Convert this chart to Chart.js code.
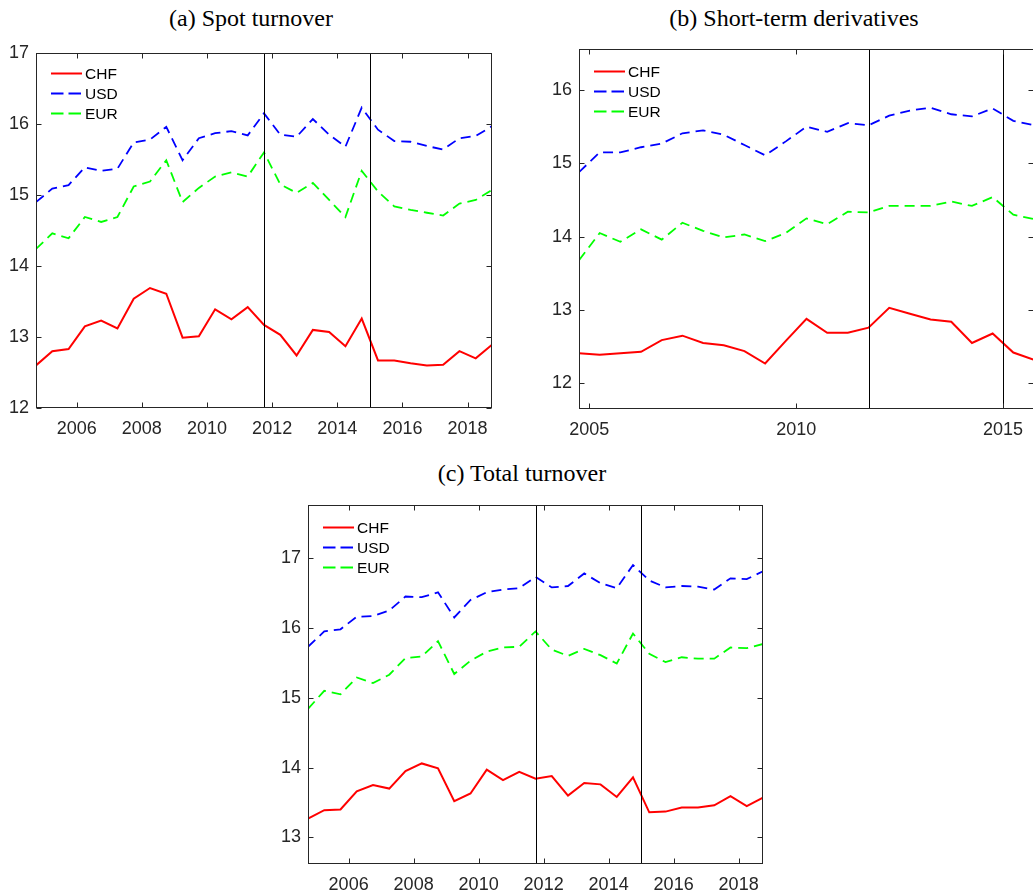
<!DOCTYPE html>
<html lang="en">
<head>
  <meta charset="UTF-8">
  <title>FX turnover</title>
  <script src="https://cdn.jsdelivr.net/npm/chart.js"></script>
  <style>
    body { margin: 0; background: #fff; }
    #wrap { position: relative; width: 1033px; height: 896px; overflow: hidden; background: #fff; }
    .title { position: absolute; font-family: "Liberation Serif", serif; font-size: 24px; line-height: 24px; color: #000; text-align: center; white-space: nowrap; }
    canvas { position: absolute; }
  </style>
</head>
<body>
  <div id="wrap">
    <div class="title" style="left:151px; width:200px; top:6px;">(a) Spot turnover</div>
    <div class="title" style="left:644px; width:300px; top:6px;">(b) Short-term derivatives</div>
    <div class="title" style="left:372px; width:300px; top:461px;">(c) Total turnover</div>
    <canvas id="spotChart" width="500" height="408" style="left:0; top:41px;"></canvas>
    <canvas id="derivChart" width="503" height="413" style="left:540px; top:37px;"></canvas>
    <canvas id="totalChart" width="500" height="412" style="left:270px; top:493px;"></canvas>
  </div>

  <script>
    // half-year observation dates
    const dates = [2004.75, 2005.25, 2005.75, 2006.25, 2006.75, 2007.25, 2007.75, 2008.25, 2008.75, 2009.25,
                   2009.75, 2010.25, 2010.75, 2011.25, 2011.75, 2012.25, 2012.75, 2013.25, 2013.75, 2014.25,
                   2014.75, 2015.25, 2015.75, 2016.25, 2016.75, 2017.25, 2017.75, 2018.25, 2018.75];

    // (a) spot turnover (log)
    const spotCHF = [12.60, 12.80, 12.83, 13.15, 13.23, 13.12, 13.54, 13.69, 13.61, 12.99,
                     13.01, 13.39, 13.25, 13.42, 13.17, 13.03, 12.74, 13.10, 13.07, 12.87,
                     13.26, 12.67, 12.67, 12.63, 12.60, 12.61, 12.80, 12.70, 12.89];
    const spotUSD = [14.90, 15.09, 15.14, 15.39, 15.34, 15.37, 15.74, 15.78, 15.96, 15.49,
                     15.80, 15.87, 15.90, 15.84, 16.15, 15.85, 15.82, 16.07, 15.85, 15.68,
                     16.23, 15.92, 15.76, 15.75, 15.69, 15.64, 15.80, 15.83, 15.97];
    const spotEUR = [14.24, 14.46, 14.39, 14.69, 14.62, 14.69, 15.12, 15.19, 15.49, 14.90,
                     15.10, 15.26, 15.32, 15.26, 15.60, 15.15, 15.03, 15.17, 14.93, 14.69,
                     15.34, 15.05, 14.84, 14.79, 14.75, 14.71, 14.88, 14.93, 15.07];

    // (b) short-term derivatives, visible up to 2015.75
    const derivCHF = [12.41, 12.39, 12.41, 12.43, 12.59, 12.65, 12.55, 12.52, 12.44, 12.27,
                      12.58, 12.88, 12.69, 12.69, 12.76, 13.03, 12.95, 12.87, 12.84, 12.55,
                      12.68, 12.42, 12.32];
    const derivUSD = [14.88, 15.15, 15.15, 15.22, 15.27, 15.41, 15.45, 15.39, 15.25, 15.11,
                      15.30, 15.50, 15.43, 15.55, 15.52, 15.65, 15.72, 15.76, 15.67, 15.64,
                      15.75, 15.58, 15.52];
    const derivEUR = [13.68, 14.05, 13.93, 14.10, 13.96, 14.19, 14.08, 13.99, 14.03, 13.94,
                      14.05, 14.25, 14.17, 14.34, 14.33, 14.42, 14.42, 14.42, 14.48, 14.42,
                      14.54, 14.30, 14.24];

    // (c) total turnover
    const totalCHF = [13.27, 13.39, 13.40, 13.66, 13.75, 13.70, 13.95, 14.06, 13.99, 13.52,
                      13.63, 13.97, 13.82, 13.94, 13.84, 13.88, 13.60, 13.78, 13.76, 13.58,
                      13.86, 13.36, 13.37, 13.43, 13.43, 13.46, 13.59, 13.45, 13.57];
    const totalUSD = [15.73, 15.95, 15.98, 16.16, 16.17, 16.25, 16.45, 16.44, 16.51, 16.15,
                      16.40, 16.51, 16.55, 16.57, 16.73, 16.58, 16.60, 16.78, 16.64, 16.57,
                      16.90, 16.68, 16.58, 16.60, 16.59, 16.55, 16.71, 16.70, 16.81];
    const totalEUR = [14.84, 15.10, 15.05, 15.29, 15.21, 15.33, 15.57, 15.59, 15.81, 15.34,
                      15.53, 15.66, 15.72, 15.73, 15.95, 15.69, 15.60, 15.70, 15.61, 15.49,
                      15.92, 15.63, 15.51, 15.58, 15.56, 15.56, 15.72, 15.71, 15.77];

    // vertical markers: floor introduced / removed
    const breakDates = [2011.75, 2015];

    // tick labels
    const xTicksYear2 = [2006, 2008, 2010, 2012, 2014, 2016, 2018];
    const xTicksYear5 = [2005, 2010, 2015];
    const yTicksSpot = [12, 13, 14, 15, 16, 17];
    const yTicksDeriv = [12, 13, 14, 15, 16];
    const yTicksTotal = [13, 14, 15, 16, 17];

    const axisColor = '#262626';

    // box, inward ticks, break lines and in-plot legend, matlab style
    const matlabAxes = {
      id: 'matlabAxes',
      afterDatasetsDraw(chart, args, opts) {
        const { ctx, chartArea: a, scales: { x, y } } = chart;
        const L = Math.round(a.left) + 0.5, R = Math.round(a.right) - 0.5;
        const T = Math.round(a.top) + 0.5, B = Math.round(a.bottom) - 0.5;
        ctx.save();

        ctx.strokeStyle = '#000';
        ctx.lineWidth = 1;
        ctx.setLineDash([]);
        breakDates.forEach(d => {
          const px = Math.round(x.getPixelForValue(d)) + 0.5;
          ctx.beginPath(); ctx.moveTo(px, T); ctx.lineTo(px, B); ctx.stroke();
        });

        ctx.strokeStyle = axisColor;
        ctx.strokeRect(L, T, R - L, B - T);
        const tk = 5;
        x.ticks.forEach(t => {
          const px = Math.round(x.getPixelForValue(t.value)) + 0.5;
          ctx.beginPath();
          ctx.moveTo(px, B); ctx.lineTo(px, B - tk);
          ctx.moveTo(px, T); ctx.lineTo(px, T + tk);
          ctx.stroke();
        });
        y.ticks.forEach(t => {
          const py = Math.round(y.getPixelForValue(t.value)) + 0.5;
          ctx.beginPath();
          ctx.moveTo(L, py); ctx.lineTo(L + tk, py);
          ctx.moveTo(R, py); ctx.lineTo(R - tk, py);
          ctx.stroke();
        });

        // legend
        ctx.font = '15.5px "Liberation Sans", Arial, sans-serif';
        ctx.textBaseline = 'middle';
        ctx.fillStyle = '#000';
        chart.data.datasets.forEach((ds, i) => {
          const ly = Math.round(a.top + opts.legendTop + i * 20) + 0.5;
          ctx.strokeStyle = ds.borderColor;
          ctx.lineWidth = ds.borderWidth;
          ctx.setLineDash(ds.borderDash ? [12.5, 5] : []);
          ctx.beginPath();
          ctx.moveTo(a.left + 15, ly); ctx.lineTo(a.left + 46, ly);
          ctx.stroke();
          ctx.fillText(ds.label, a.left + 49, ly + 1);
        });
        ctx.restore();
      }
    };

    function series(label, values, color, dashed) {
      return {
        label: label,
        data: values.map((v, i) => ({ x: dates[i], y: v })),
        borderColor: color,
        borderWidth: dashed ? 1.8 : 2,
        borderDash: dashed ? [10, 6] : undefined,
        pointRadius: 0,
        tension: 0,
        fill: false
      };
    }

    function makeChart(id, cfg) {
      const ctx = document.getElementById(id).getContext('2d');
      return new Chart(ctx, {
        type: 'line',
        data: {
          datasets: [
            series('CHF', cfg.chf, '#ff0000', false),
            series('USD', cfg.usd, '#0000ff', true),
            series('EUR', cfg.eur, '#00ff00', true)
          ]
        },
        options: {
          responsive: false,
          animation: false,
          layout: { padding: { top: 12, right: cfg.padRight, left: 0, bottom: 0 } },
          plugins: {
            legend: { display: false },
            tooltip: { enabled: false },
            matlabAxes: { legendTop: cfg.legendTop }
          },
          scales: {
            x: {
              type: 'linear',
              min: cfg.xMin,
              max: cfg.xMax,
              afterBuildTicks: s => { s.ticks = cfg.xTicks.map(v => ({ value: v })); },
              afterFit: s => { s.height = 41; s.paddingLeft = 0; s.paddingRight = 0; },
              grid: { display: false, drawTicks: false },
              border: { display: false },
              ticks: {
                padding: 10,
                maxRotation: 0,
                autoSkip: false,
                color: axisColor,
                font: { family: '"Liberation Sans", Arial, sans-serif', size: 18 },
                callback: v => String(v)
              }
            },
            y: {
              type: 'linear',
              min: cfg.yMin,
              max: cfg.yMax,
              afterBuildTicks: s => { s.ticks = cfg.yTicks.map(v => ({ value: v })); },
              afterFit: s => { s.width = cfg.yWidth; s.paddingTop = 0; s.paddingBottom = 0; },
              grid: { display: false, drawTicks: false },
              border: { display: false },
              ticks: {
                padding: 7,
                color: axisColor,
                font: { family: '"Liberation Sans", Arial, sans-serif', size: 18 },
                callback: v => String(v)
              }
            }
          }
        },
        plugins: [matlabAxes]
      });
    }

    document.addEventListener('DOMContentLoaded', () => {
      makeChart('spotChart', {
        chf: spotCHF, usd: spotUSD, eur: spotEUR,
        xMin: 2004.75, xMax: 2018.75, yMin: 12, yMax: 17,
        xTicks: xTicksYear2, yTicks: yTicksSpot,
        yWidth: 36, padRight: 8, legendTop: 20
      });
      makeChart('derivChart', {
        chf: derivCHF, usd: derivUSD, eur: derivEUR,
        xMin: 2004.75, xMax: 2015.75, yMin: 11.65, yMax: 16.56,
        xTicks: xTicksYear5, yTicks: yTicksDeriv,
        yWidth: 39, padRight: 9, legendTop: 22
      });
      makeChart('totalChart', {
        chf: totalCHF, usd: totalUSD, eur: totalEUR,
        xMin: 2004.75, xMax: 2018.75, yMin: 12.62, yMax: 17.76,
        xTicks: xTicksYear2, yTicks: yTicksTotal,
        yWidth: 38, padRight: 7, legendTop: 22
      });
    });
  </script>
</body>
</html>
